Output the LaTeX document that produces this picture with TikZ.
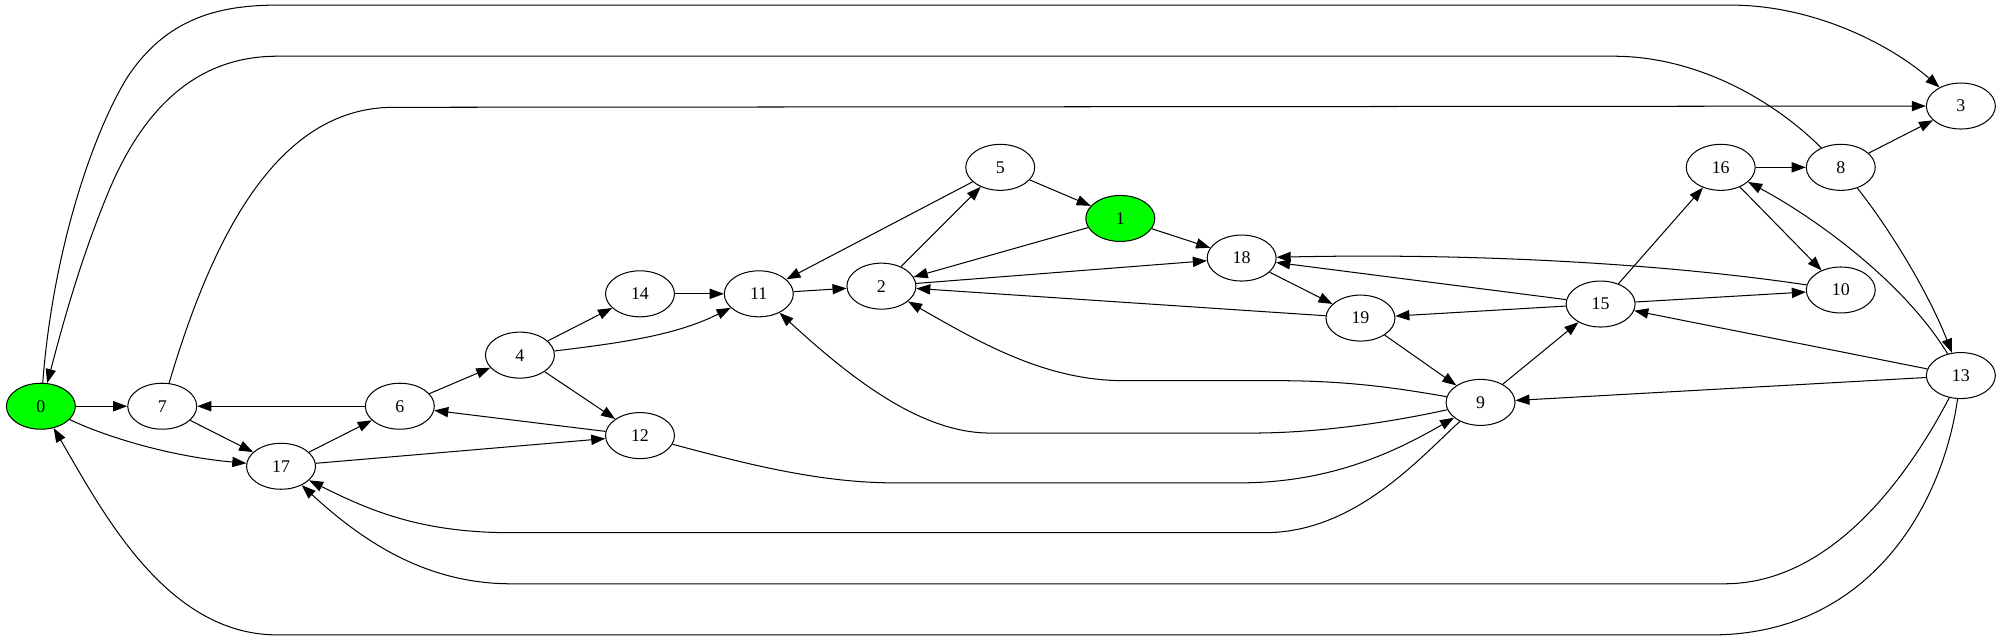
\documentclass[tikz,border=0pt]{standalone}
\usepackage{fontspec}
\setmainfont{Liberation Serif}
\usetikzlibrary{shapes.geometric,arrows.meta}
\definecolor{gvgreen}{RGB}{0,255,0}
\begin{document}
\begin{tikzpicture}[x=1pt,y=1pt,
  gnode/.style={draw,ellipse,minimum width=54pt,minimum height=36pt,inner sep=0pt,line width=0.8pt,font=\fontsize{14}{16}\selectfont},
  startnode/.style={gnode,fill=gvgreen},
  conn/.style={-{Triangle[length=11pt,width=8pt]},line width=0.8pt}]
\useasboundingbox (0,0) rectangle (1568,-501);
% nodes
\node[startnode] (n0) at (32,-318) {0};
\node[gnode] (n7) at (127,-318) {7};
\node[gnode] (n6) at (313,-318) {6};
\node[gnode] (n4) at (407,-278) {4};
\node[gnode] (n14) at (501,-230) {14};
\node[gnode] (n12) at (501,-341) {12};
\node[gnode] (n17) at (220,-365) {17};
\node[gnode] (n11) at (594,-230) {11};
\node[gnode] (n2) at (690,-224) {2};
\node[gnode] (n5) at (783,-131) {5};
\node[startnode] (n1) at (877,-171) {1};
\node[gnode] (n18) at (972,-202) {18};
\node[gnode] (n19) at (1065,-249) {19};
\node[gnode] (n9) at (1159,-315) {9};
\node[gnode] (n15) at (1253,-238) {15};
\node[gnode] (n16) at (1347,-131) {16};
\node[gnode] (n10) at (1441,-227) {10};
\node[gnode] (n8) at (1441,-131) {8};
\node[gnode] (n3) at (1535,-83) {3};
\node[gnode] (n13) at (1535,-294) {13};
% straight edges
\foreach \a/\b in {n0/n7, n7/n17, n6/n7, n17/n6, n6/n4, n4/n14, n4/n12, n12/n6, n17/n12,
  n14/n11, n11/n2, n2/n5, n5/n11, n5/n1, n1/n2, n1/n18, n2/n18, n19/n2, n18/n19,
  n15/n18, n15/n19, n19/n9, n9/n15, n15/n16, n15/n10, n16/n8, n16/n10, n8/n3,
  n13/n15, n13/n9}
  \draw[conn] (\a) -- (\b);
% curved edges
\draw[conn] (n0) .. controls (42,-190) and (75,-100) .. (100,-60)
  .. controls (130,-15) and (170,-4) .. (217,-4) -- (1355,-4)
  .. controls (1420,-4) and (1480,-35) .. (n3);
\draw[conn] (n8) .. controls (1390,-80) and (1330,-44) .. (1263,-44) -- (217,-44)
  .. controls (150,-44) and (110,-90) .. (85,-150)
  .. controls (60,-210) and (45,-270) .. (n0);
\draw[conn] (n7) .. controls (165,-190) and (215,-84) .. (308,-84) -- (n3);
\draw[conn] (n13) .. controls (1520,-400) and (1460,-497) .. (1340,-497) -- (217,-497)
  .. controls (130,-497) and (80,-400) .. (n0);
\draw[conn] (n13) .. controls (1490,-380) and (1430,-457) .. (1350,-457) -- (400,-457)
  .. controls (330,-457) and (280,-420) .. (n17);
\draw[conn] (n9) .. controls (1110,-360) and (1060,-417) .. (990,-417) -- (400,-417)
  .. controls (330,-417) and (290,-400) .. (n17);
\draw[conn] (n12) .. controls (580,-362) and (640,-378) .. (700,-378) -- (970,-378)
  .. controls (1040,-378) and (1090,-355) .. (n9);
\draw[conn] (n9) .. controls (1100,-328) and (1040,-339) .. (980,-339) -- (775,-339)
  .. controls (720,-339) and (665,-295) .. (n11);
\draw[conn] (n9) .. controls (1100,-305) and (1060,-298) .. (1000,-298) -- (880,-298)
  .. controls (820,-298) and (770,-270) .. (n2);
\draw[conn] (n4) .. controls (490,-268) and (530,-262) .. (n11);
\draw[conn] (n0) .. controls (90,-345) and (140,-358) .. (n17);
\draw[conn] (n10) .. controls (1300,-206) and (1150,-198) .. (n18);
\draw[conn] (n13) .. controls (1490,-220) and (1420,-170) .. (n16);
\draw[conn] (n8) .. controls (1480,-180) and (1510,-230) .. (n13);
\end{tikzpicture}
\end{document}
